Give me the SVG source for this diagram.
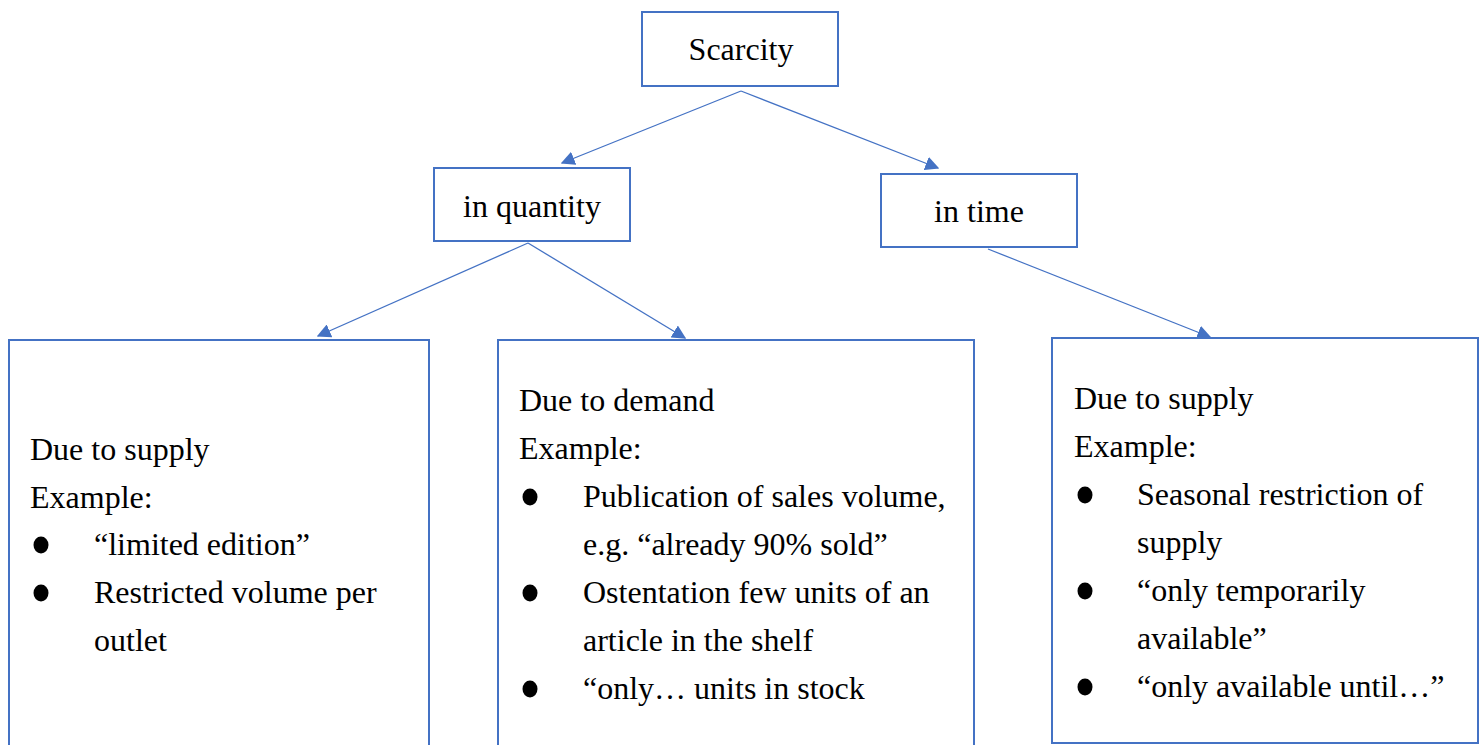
<svg xmlns="http://www.w3.org/2000/svg" width="1483" height="745" viewBox="0 0 1483 745">
<style>
.box{fill:#fff;stroke:#4472C4;stroke-width:2}
.t{font-family:"Liberation Serif","Times New Roman",serif;font-size:32px;fill:#000}
.c{text-anchor:middle}
.con{stroke:#4472C4;stroke-width:1.3;fill:none}
.b{fill:#000}
</style>
<defs>
<marker id="ah" viewBox="0 0 10 10" refX="9" refY="5" markerWidth="14" markerHeight="14" markerUnits="userSpaceOnUse" orient="auto">
<path d="M0,0 L10,5 L0,10 z" fill="#4472C4"/>
</marker>
</defs>
<rect width="1483" height="745" fill="#fff"/>
<g id="connectors">
<line class="con" x1="741" y1="91" x2="562" y2="163" marker-end="url(#ah)"/>
<line class="con" x1="741" y1="91" x2="938" y2="168" marker-end="url(#ah)"/>
<line class="con" x1="528" y1="243" x2="318" y2="336" marker-end="url(#ah)"/>
<line class="con" x1="528" y1="243" x2="685" y2="338" marker-end="url(#ah)"/>
<line class="con" x1="988" y1="249" x2="1210" y2="337" marker-end="url(#ah)"/>
</g>
<g id="scarcity">
<rect class="box" x="642" y="12" width="196" height="74"/>
<text class="t c" x="741" y="60">Scarcity</text>
</g>
<g id="quantity">
<rect class="box" x="434" y="168" width="196" height="73"/>
<text class="t c" x="532" y="217">in quantity</text>
</g>
<g id="time">
<rect class="box" x="881" y="174" width="196" height="73"/>
<text class="t c" x="979" y="222">in time</text>
</g>
<g id="supply-quantity">
<path class="box" d="M9,746 V340 H429 V746"/>
<text class="t" x="30" y="460">Due to supply</text>
<text class="t" x="30" y="508">Example:</text>
<ellipse class="b" cx="41" cy="545" rx="7.5" ry="8.5"/>
<text class="t" x="94" y="555">“limited edition”</text>
<ellipse class="b" cx="41" cy="593" rx="7.5" ry="8.5"/>
<text class="t" x="94" y="603">Restricted volume per</text>
<text class="t" x="94" y="651">outlet</text>
</g>
<g id="demand">
<path class="box" d="M498,746 V340 H974 V746"/>
<text class="t" x="519" y="411">Due to demand</text>
<text class="t" x="519" y="459">Example:</text>
<ellipse class="b" cx="530" cy="497" rx="7.5" ry="8.5"/>
<text class="t" x="583" y="507">Publication of sales volume,</text>
<text class="t" x="583" y="555">e.g. “already 90% sold”</text>
<ellipse class="b" cx="530" cy="593" rx="7.5" ry="8.5"/>
<text class="t" x="583" y="603">Ostentation few units of an</text>
<text class="t" x="583" y="651">article in the shelf</text>
<ellipse class="b" cx="530" cy="689" rx="7.5" ry="8.5"/>
<text class="t" x="583" y="699">“only… units in stock</text>
</g>
<g id="supply-time">
<rect class="box" x="1052" y="338" width="426" height="405"/>
<text class="t" x="1074" y="409">Due to supply</text>
<text class="t" x="1074" y="457">Example:</text>
<ellipse class="b" cx="1085" cy="495" rx="7.5" ry="8.5"/>
<text class="t" x="1137" y="505">Seasonal restriction of</text>
<text class="t" x="1137" y="553">supply</text>
<ellipse class="b" cx="1085" cy="591" rx="7.5" ry="8.5"/>
<text class="t" x="1137" y="601">“only temporarily</text>
<text class="t" x="1137" y="649">available”</text>
<ellipse class="b" cx="1085" cy="687" rx="7.5" ry="8.5"/>
<text class="t" x="1137" y="697">“only available until…”</text>
</g>
</svg>
